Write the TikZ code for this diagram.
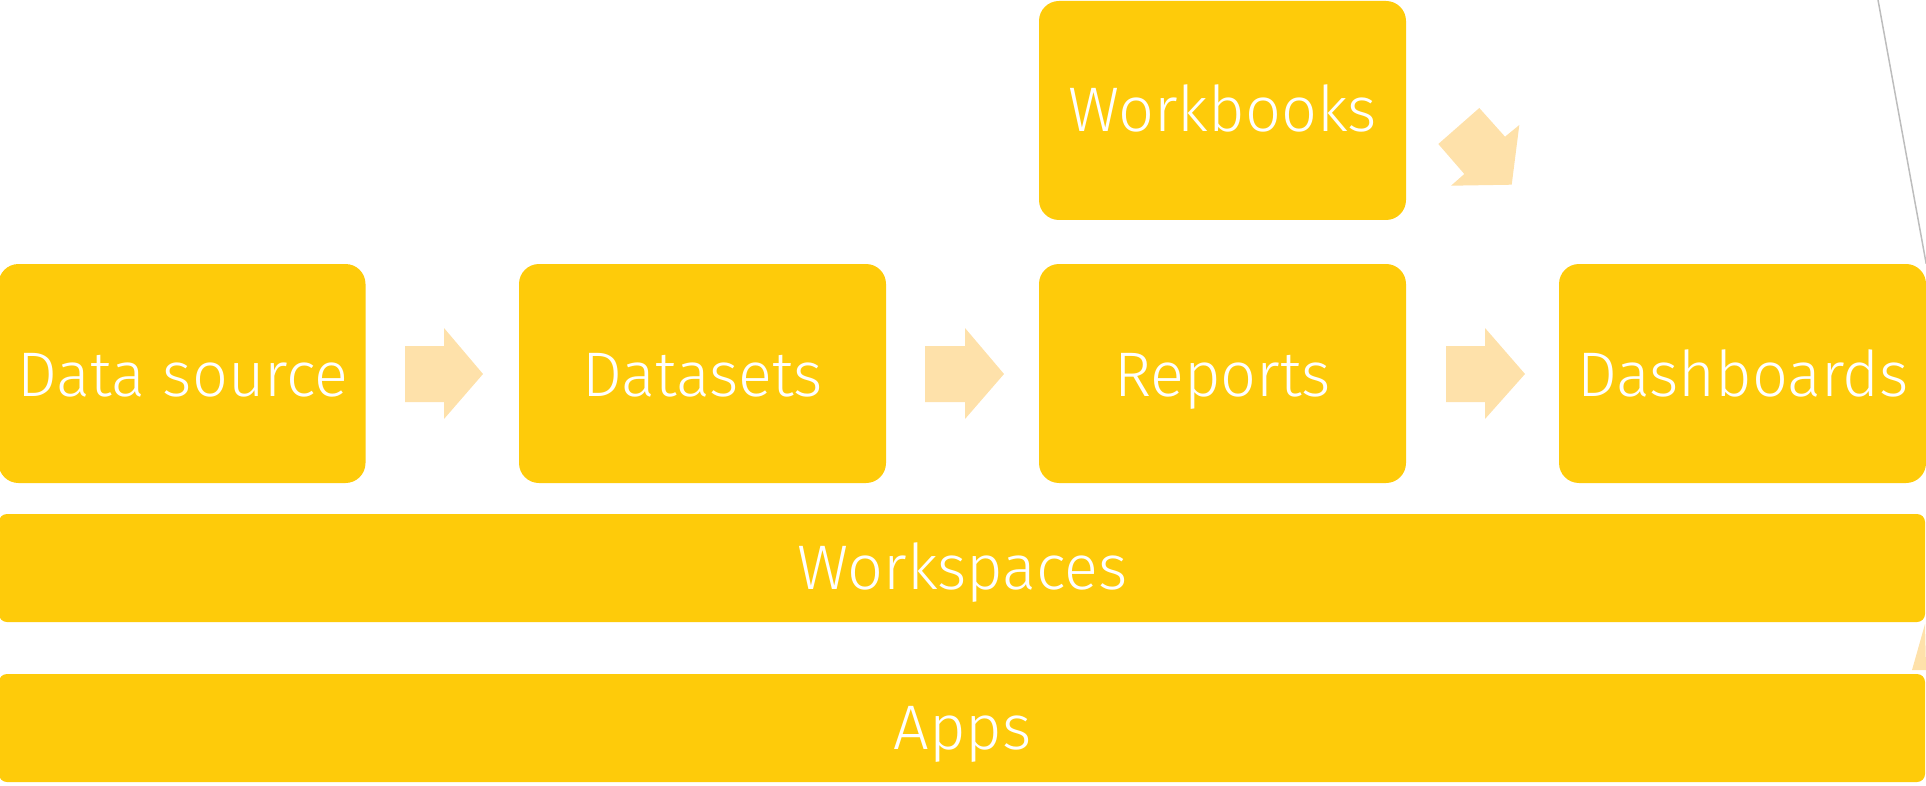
\documentclass[tikz,border=0pt]{standalone}
\usepackage{fontspec}
\setmainfont{Fira Sans}[UprightFont=* Light]
\definecolor{boxyellow}{HTML}{FECB0A}
\definecolor{palearrow}{HTML}{FEE1AA}
\definecolor{linegrey}{HTML}{BDBDBD}
\begin{document}
\begin{tikzpicture}[x=1pt,y=-1pt,
  card/.style={fill=boxyellow, draw=none, rounded corners=20pt, minimum width=367pt, minimum height=219pt, inner sep=0pt},
  bar/.style={fill=boxyellow, draw=none, rounded corners=8pt, minimum width=1926pt, minimum height=108pt, inner sep=0pt},
  lbl/.style={text=white, anchor=base, inner sep=0pt, font=\fontsize{63}{72}\selectfont},
  blockarrow/.style={fill=palearrow, draw=none}]
\useasboundingbox (0,0) rectangle (1926,786);
% cards
\node[card] (src) at (182,373.5) {};
\node[card] (dsets) at (702.5,373.5) {};
\node[card] (reps) at (1222.5,373.5) {};
\node[card] (dash) at (1742.5,373.5) {};
\node[card] (wb) at (1222.5,110.5) {};
\node[bar] (ws) at (962,568) {};
\node[bar] (apps) at (962,728) {};
% labels
\node[lbl] (srcT) at (183,396) {Data source};
\node[lbl] (dsetsT) at (702.5,396) {Datasets};
\node[lbl] (repsT) at (1222.5,396) {Reports};
\node[lbl] (dashT) at (1743,396) {Dashboards};
\node[lbl] (wbT) at (1222.5,132) {Workbooks};
\node[lbl] (wsT) at (962.5,589) {Workspaces};
\node[lbl] (appsT) at (962.5,749) {Apps};
% block arrows
\fill[blockarrow] (405,346) -- (444,346) -- (444,328) -- (483,374) -- (444,419) -- (444,402) -- (405,402) -- cycle;
\fill[blockarrow] (925,346) -- (965,346) -- (965,328) -- (1004,374) -- (965,419) -- (965,402) -- (925,402) -- cycle;
\fill[blockarrow] (1446,346) -- (1485,346) -- (1485,328) -- (1525,374) -- (1485,419) -- (1485,402) -- (1446,402) -- cycle;
\fill[blockarrow] (1438.3,144) -- (1479.3,108) -- (1505,136.7) -- (1519.3,125) -- (1511.7,184.7) -- (1451,185.7) -- (1464.3,174) -- cycle;
\fill[blockarrow] (1925,624) -- (1912,670) -- (1926,670) -- cycle;
% grey line
\coordinate (lineTop) at (1878,0);
\draw[linegrey, line width=1.5pt] (lineTop) -- (dash.north east);
\end{tikzpicture}
\end{document}
